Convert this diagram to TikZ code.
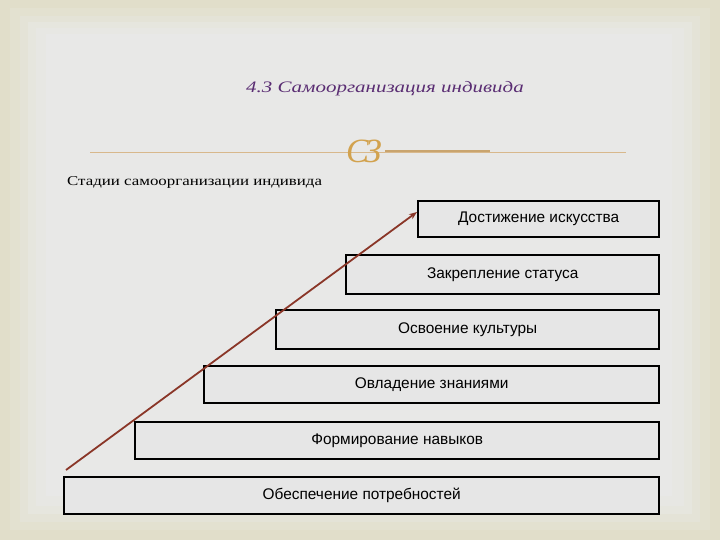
\documentclass[tikz,border=0pt]{standalone}
\usetikzlibrary{arrows.meta}
\usepackage{fontspec}
\usepackage{graphicx}
\setmainfont{Liberation Serif}
\setsansfont{Liberation Sans}
\newfontfamily\ornfont{Liberation Serif}
\definecolor{bgA}{HTML}{E1DECA}
\definecolor{bgB}{HTML}{E3E1D0}
\definecolor{bgC}{HTML}{E4E3D7}
\definecolor{bgD}{HTML}{E6E6DE}
\definecolor{bgE}{HTML}{E7E7E3}
\definecolor{bgF}{HTML}{E8E8E7}
\definecolor{titlecol}{HTML}{5A2D73}
\definecolor{rulecol}{HTML}{D8B88C}
\definecolor{rulecolD}{HTML}{C9A46E}
\definecolor{orncol}{HTML}{D2A24E}
\definecolor{arrowcol}{HTML}{8A3628}
\definecolor{boxfill}{HTML}{E6E6E6}
\tikzset{
  stage/.style={draw=black, line width=1.6pt, fill=boxfill, inner sep=0pt, anchor=north east,
    font=\sffamily\fontsize{15.4}{17}\selectfont},
}
\begin{document}
\begin{tikzpicture}[x=1pt,y=-1pt]
\useasboundingbox (0,0) rectangle (720,540);
% background vignette
\fill[bgA] (0,0) rectangle (720,540);
\fill[bgB] (10,8) rectangle (710,530);
\fill[bgC] (20,16) rectangle (700,522);
\fill[bgD] (28,22) rectangle (692,514);
\fill[bgE] (36,28) rectangle (684,506);
\fill[bgF] (46,34) rectangle (672,496);
% title
\node[font=\itshape\fontsize{16}{18}\selectfont, text=titlecol] (title) at (385,89) {\scalebox{1.31}[1]{4.3 Самоорганизация индивида}};
% rule with ornament
\coordinate (rl) at (90,152);
\coordinate (rr) at (626,152);
\draw[rulecol, line width=0.8pt] (rl) -- (rr);
\draw[rulecolD, line width=1.2pt] (385,151) -- (490,151);
\node[font=\ornfont\itshape\fontsize{34}{34}\selectfont, text=orncol, inner sep=0pt] (orn) at (364,151) {C\kern-4ptЗ};
% subtitle
\node[anchor=west, font=\fontsize{13.5}{15}\selectfont, inner sep=0pt] (sub) at (67,182) {\scalebox{1.25}[1]{Стадии самоорганизации индивида}};
% stages
\node[stage, minimum width=241, minimum height=36] (s6) at (660,200) {Достижение искусства};
\node[stage, minimum width=313, minimum height=39] (s5) at (660,254) {Закрепление статуса};
\node[stage, minimum width=383, minimum height=39] (s4) at (660,309) {Освоение культуры};
\node[stage, minimum width=455, minimum height=37] (s3) at (660,365) {Овладение знаниями};
\node[stage, minimum width=524, minimum height=37] (s2) at (660,421) {Формирование навыков};
\node[stage, minimum width=595, minimum height=37] (s1) at (660,476) {Обеспечение потребностей};
% arrow
\coordinate (astart) at (66,470);
\coordinate (aend) at (417,212);
\draw[arrowcol, line width=1.8pt, -{Stealth[length=8pt,width=6pt]}] (astart) -- (aend);
\end{tikzpicture}
\end{document}
